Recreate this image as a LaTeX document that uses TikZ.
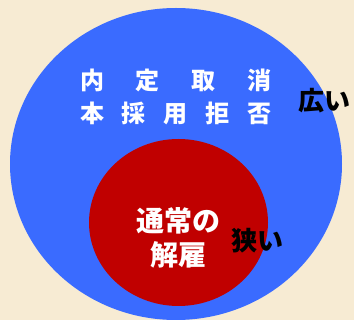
\documentclass[tikz,border=0pt]{standalone}
\usepackage{xcolor}
\usepackage{fontspec}
\usepackage{tikz}
\newfontfamily\jpfont{Noto Sans CJK JP}
\definecolor{bgbeige}{HTML}{F7EBD3}
\definecolor{wideblue}{HTML}{3A6BFF}
\definecolor{narrowred}{HTML}{C00000}
\tikzset{
	whitelabel/.style={text=white, font=\jpfont\bfseries\fontsize{24}{24}\selectfont, inner sep=0pt},
	blacklabel/.style={text=black, font=\jpfont\bfseries\fontsize{26}{26}\selectfont, inner sep=0pt},
}

\begin{document}
\begin{tikzpicture}[x=1pt, y=-1pt]
	% Background and circles:
	\fill[bgbeige] (0, 0) rectangle (354, 320);
	\useasboundingbox (0, 0) rectangle (354, 320);
	\fill[wideblue] (176, 164) ellipse [x radius=166, y radius=156];
	\fill[narrowred] (178.5, 222.5) ellipse [x radius=89.5, y radius=83.5];
	% Labels:
	\node[whitelabel](R1) at (176, 80){\makebox[192pt][s]{内\hfil 定\hfil 取\hfil 消}};
	\node[whitelabel](R2) at (176, 113){\makebox[192pt][s]{本\hfil 採\hfil 用\hfil 拒\hfil 否}};
	\node[blacklabel, anchor=west](Wide) at (298, 101){広い};
	\node[whitelabel, font=\jpfont\bfseries\fontsize{28}{28}\selectfont](N1) at (178, 221){通常の};
	\node[whitelabel, font=\jpfont\bfseries\fontsize{28}{28}\selectfont](N2) at (178, 255){解雇};
	\node[blacklabel, anchor=west](Narrow) at (231, 241){狭い};
\end{tikzpicture}
\end{document}
